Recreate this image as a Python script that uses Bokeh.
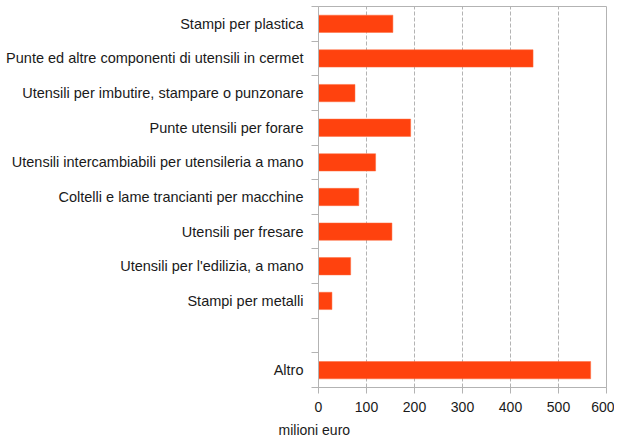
from bokeh.plotting import figure
from bokeh.models import FixedTicker, Range1d, Title
from bokeh.embed import file_html
from bokeh.resources import INLINE

categories = [
    "Altro",
    "",
    "Stampi per metalli",
    "Utensili per l'edilizia, a mano",
    "Utensili per fresare",
    "Coltelli e lame trancianti per macchine",
    "Utensili intercambiabili per utensileria a mano",
    "Punte utensili per forare",
    "Utensili per imbutire, stampare o punzonare",
    "Punte ed altre componenti di utensili in cermet",
    "Stampi per plastica",
]
values = [567, None, 28, 67, 153, 84, 119, 192, 76, 447, 155]
x_ticks = [0, 100, 200, 300, 400, 500, 600]
x_label = "milioni euro"

ys = [i for i, v in enumerate(values) if v is not None]
vs = [v for v in values if v is not None]

FONT = "Liberation Sans"
GRAY = "#b3b3b3"

p = figure(
    frame_width=288, frame_height=381,
    min_border_left=318, min_border_right=8, min_border_top=6, min_border_bottom=52,
    x_range=Range1d(0, 600), y_range=Range1d(-0.5, len(categories) - 0.5),
    output_backend="svg", toolbar_location=None,
)
p.hbar(y=ys, right=vs, left=0, height=0.5, fill_color="#ff420e", line_color="#ff6a3d", line_width=0.5)

p.outline_line_color = GRAY
p.outline_line_width = 1
p.background_fill_color = "white"
p.border_fill_color = "white"

p.ygrid.grid_line_color = None
p.xgrid.grid_line_color = GRAY
p.xgrid.grid_line_dash = "4 2"
p.xgrid.ticker = FixedTicker(ticks=x_ticks[1:-1])

yt = FixedTicker(ticks=list(range(len(categories))),
                 minor_ticks=[i - 0.5 for i in range(len(categories) + 1)])
p.yaxis.ticker = yt
p.yaxis.major_label_overrides = {i: c for i, c in enumerate(categories)}
p.yaxis.major_tick_out = 0
p.yaxis.major_tick_in = 0
p.yaxis.minor_tick_out = 7
p.yaxis.minor_tick_in = 0
p.yaxis.minor_tick_line_color = GRAY
p.yaxis.axis_line_color = GRAY
p.yaxis.major_label_standoff = 8
p.yaxis.major_label_text_font = FONT
p.yaxis.major_label_text_font_size = "14.5px"
p.yaxis.major_label_text_color = "#1a1a1a"

p.xaxis.ticker = FixedTicker(ticks=x_ticks)
p.xaxis.major_tick_out = 6
p.xaxis.major_tick_in = 0
p.xaxis.minor_tick_out = 0
p.xaxis.major_tick_line_color = GRAY
p.xaxis.axis_line_color = GRAY
p.xaxis.major_label_standoff = 8
p.xaxis.major_label_text_font = FONT
p.xaxis.major_label_text_font_size = "14px"
p.xaxis.major_label_text_color = "#1a1a1a"

t = Title(text=x_label, align="left", offset=-40, standoff=10,
          text_font=FONT, text_font_size="14px", text_font_style="normal",
          text_color="#1a1a1a")
p.add_layout(t, "below")

open("out.html", "w").write(file_html(p, INLINE))
